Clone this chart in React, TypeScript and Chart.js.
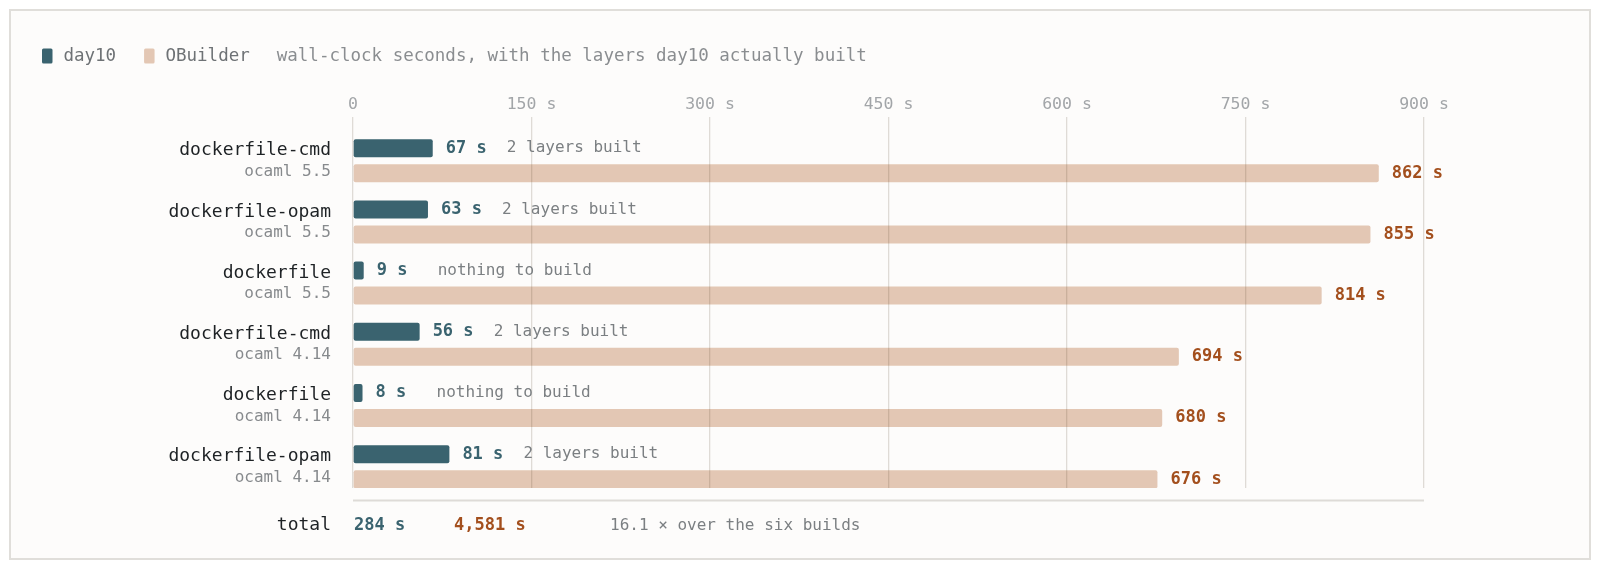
import { useEffect, useRef } from "react";
import { Chart, registerables } from "chart.js";

Chart.register(...registerables);

// build names + compiler versions, one row each
const builds = [
  "dockerfile-cmd",
  "dockerfile-opam",
  "dockerfile",
  "dockerfile-cmd",
  "dockerfile",
  "dockerfile-opam",
];
const versions = ["ocaml 5.5", "ocaml 5.5", "ocaml 5.5", "ocaml 4.14", "ocaml 4.14", "ocaml 4.14"];

// wall-clock seconds
const day10Seconds = [67, 63, 9, 56, 8, 81];
const obuilderSeconds = [862, 855, 814, 694, 680, 676];
const day10Notes = [
  "2 layers built",
  "2 layers built",
  "nothing to build",
  "2 layers built",
  "nothing to build",
  "2 layers built",
];

const xTicks = [0, 150, 300, 450, 600, 750, 900];

const TEAL = "#3a636f";
const BEIGE = "#e3c7b4";
const BROWN = "#a34f1d";
const FONT = "'DejaVu Sans Mono', monospace";

const App: React.FC = () => {
  const canvasRef = useRef<HTMLCanvasElement | null>(null);
  const chartRef = useRef<Chart | null>(null);

  useEffect(() => {
    if (!canvasRef.current) return;
    if (chartRef.current) chartRef.current.destroy();

    const totalDay10 = day10Seconds.reduce((a, b) => a + b, 0);
    const totalOB = obuilderSeconds.reduce((a, b) => a + b, 0);
    const ratio = (totalOB / totalDay10).toFixed(1);

    // legend, row labels, value labels and totals row
    const textPlugin = {
      id: "texts",
      afterDraw(chart: any) {
        const ctx = chart.ctx as CanvasRenderingContext2D;
        const area = chart.chartArea;
        const yScale = chart.scales.y;
        ctx.save();
        ctx.textBaseline = "middle";

        // legend
        let x = 31;
        const ly = 45;
        const legendItems = [
          { label: "day10", color: TEAL },
          { label: "OBuilder", color: BEIGE },
        ];
        ctx.font = `17.5px ${FONT}`;
        legendItems.forEach((it) => {
          ctx.fillStyle = it.color;
          ctx.beginPath();
          ctx.roundRect(x, ly - 7.5, 10.5, 15, 1.5);
          ctx.fill();
          x += 21.4;
          ctx.fillStyle = "#6e7275";
          ctx.textAlign = "left";
          ctx.fillText(it.label, x, ly);
          x += ctx.measureText(it.label).width + 28;
        });
        ctx.fillStyle = "#8a8d90";
        ctx.fillText("wall-clock seconds, with the layers day10 actually built", x - 1, ly);

        // row labels
        ctx.textAlign = "right";
        builds.forEach((name, i) => {
          const yc = yScale.getPixelForValue(i);
          ctx.font = `18px ${FONT}`;
          ctx.fillStyle = "#1e2225";
          ctx.fillText(name, area.left - 22, yc - 10);
          ctx.font = `16px ${FONT}`;
          ctx.fillStyle = "#878a8d";
          ctx.fillText(versions[i], area.left - 22, yc + 11);
        });

        // value labels
        ctx.textAlign = "left";
        const m0 = chart.getDatasetMeta(0);
        const m1 = chart.getDatasetMeta(1);
        m0.data.forEach((bar: any, i: number) => {
          const lx = bar.x + 13;
          ctx.font = `bold 17px ${FONT}`;
          ctx.fillStyle = TEAL;
          ctx.fillText(`${day10Seconds[i]} s`, lx, bar.y);
          ctx.font = `16px ${FONT}`;
          ctx.fillStyle = "#7b7f82";
          ctx.fillText(day10Notes[i], lx + 61, bar.y);
        });
        m1.data.forEach((bar: any, i: number) => {
          ctx.font = `bold 17px ${FONT}`;
          ctx.fillStyle = BROWN;
          ctx.fillText(`${obuilderSeconds[i]} s`, bar.x + 13, bar.y);
        });

        // separator + totals
        ctx.strokeStyle = "#dedbd7";
        ctx.lineWidth = 2;
        ctx.beginPath();
        ctx.moveTo(area.left, area.bottom + 12.5);
        ctx.lineTo(area.right, area.bottom + 12.5);
        ctx.stroke();

        const ty = area.bottom + 37.5;
        ctx.textAlign = "right";
        ctx.font = `18px ${FONT}`;
        ctx.fillStyle = "#1e2225";
        ctx.fillText("total", area.left - 22, ty);
        ctx.textAlign = "left";
        ctx.font = `bold 17px ${FONT}`;
        ctx.fillStyle = TEAL;
        ctx.fillText(`${totalDay10} s`, area.left + 1, ty);
        ctx.fillStyle = BROWN;
        ctx.fillText(`${totalOB.toLocaleString("en-US")} s`, area.left + 101, ty);
        ctx.font = `16px ${FONT}`;
        ctx.fillStyle = "#7b7f82";
        ctx.fillText(`${ratio} × over the six builds`, area.left + 257, ty);
        ctx.restore();
      },
    };

    chartRef.current = new Chart(canvasRef.current, {
      type: "bar",
      data: {
        datasets: [
          {
            label: "day10",
            data: day10Seconds.map((v, i) => ({ x: v, y: i })),
            backgroundColor: TEAL,
            borderRadius: 2,
            borderSkipped: false,
          },
          {
            label: "OBuilder",
            data: obuilderSeconds.map((v, i) => ({ x: v, y: i })),
            backgroundColor: BEIGE,
            borderRadius: 2,
            borderSkipped: false,
          },
        ],
      },
      options: {
        indexAxis: "y",
        animation: false,
        responsive: true,
        maintainAspectRatio: false,
        layout: { padding: { left: 342, right: 165, top: 66, bottom: 70 } },
        datasets: {
          bar: { categoryPercentage: 0.817, barPercentage: 0.72 },
        },
        plugins: {
          legend: { display: false },
          tooltip: { enabled: false },
        },
        scales: {
          x: {
            type: "linear",
            position: "top",
            min: 0,
            max: 900,
            afterFit: (scale: any) => {
              scale.height = 40;
            },
            afterBuildTicks: (scale: any) => {
              scale.ticks = xTicks.map((v) => ({ value: v }));
            },
            ticks: {
              padding: 2,
              color: "#a2a5a8",
              font: { family: FONT, size: 16.5 },
              callback: (v: any) => (v === 0 ? "0" : `${v} s`),
            },
            grid: {
              color: "rgba(90, 70, 50, 0.18)",
              lineWidth: 1.3,
              drawTicks: false,
              z: 1,
            },
            border: { display: false },
          },
          y: {
            type: "linear",
            reverse: true,
            offset: false,
            min: -0.714,
            max: 5.348,
            display: false,
            grid: { offset: false },
            afterBuildTicks: (scale: any) => {
              scale.ticks = builds.map((_, i) => ({ value: i }));
            },
          },
        },
      },
      plugins: [textPlugin],
    });

    return () => {
      if (chartRef.current) {
        chartRef.current.destroy();
        chartRef.current = null;
      }
    };
  }, []);

  return (
    <div
      style={{
        margin: 1,
        width: 1582,
        height: 551,
        boxSizing: "border-box",
        border: "2px solid #e0deda",
        background: "#fdfcfb",
      }}
    >
      <div style={{ position: "relative", width: 1578, height: 547 }}>
        <canvas ref={canvasRef} />
      </div>
    </div>
  );
};

export default App;
